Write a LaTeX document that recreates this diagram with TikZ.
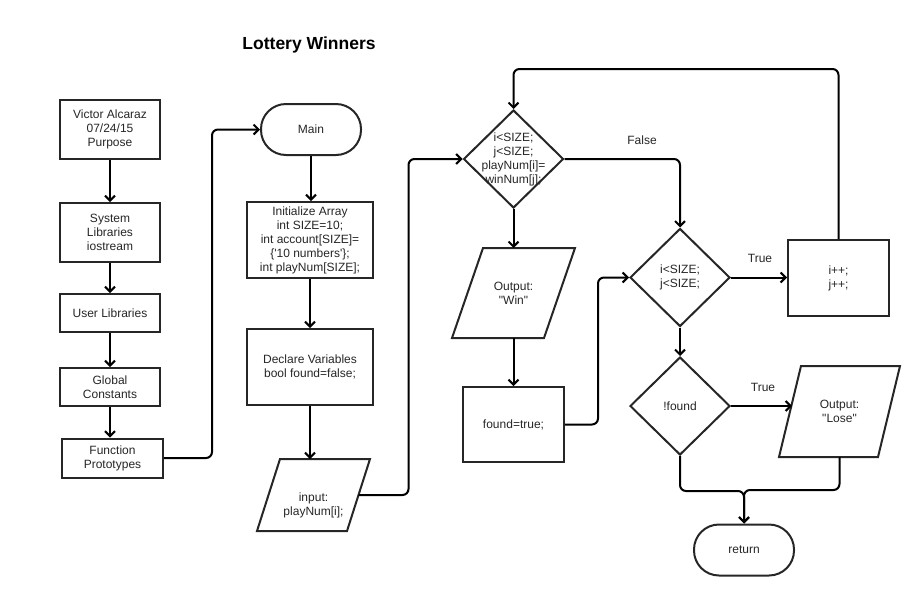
\documentclass[tikz,border=0pt]{standalone}
\usepackage{fontspec}
\setmainfont[Ligatures=TeXOff]{Liberation Sans}
\usetikzlibrary{arrows.meta,shapes.geometric}
\tikzset{
    box/.style={draw=black!85,line width=2pt,minimum width=100pt,align=center,inner sep=2pt},
    term/.style={box,rounded corners=25pt,minimum height=51pt},
    dec/.style={draw=black!85,line width=2pt,diamond,aspect=1,minimum width=100pt,minimum height=98pt,inner sep=0pt,align=center},
    io/.style={inner sep=0pt,outer sep=0pt,align=center},
    flow/.style={line width=2pt,rounded corners=6pt,-{Straight Barb[length=5pt,width=10pt]}}
}
% outline of an input/output node, #2 = half the slant
\newcommand{\ioshape}[2]{\draw[draw=black!85,line width=2pt] ([xshift=#2]#1.north west) -- ([xshift=#2]#1.north east) -- ([xshift=-#2]#1.south east) -- ([xshift=-#2]#1.south west) -- cycle;}
\begin{document}
\begin{tikzpicture}[x=1pt,y=-1pt,font=\fontsize{12}{14}\selectfont,text=black!85]
\useasboundingbox (0,0) rectangle (915,595);
\node[font=\fontsize{17.5}{20}\selectfont\bfseries,text=black] (title) at (309,45) {Lottery Winners};
% header column
\node[box,minimum height=59pt] (L1) at (110,129.5) {Victor Alcaraz\\07/24/15\\Purpose};
\node[box,minimum height=59pt] (L2) at (110,232.5) {System\\Libraries\\iostream};
\node[box,minimum height=38pt] (L3) at (110,313) {User Libraries};
\node[box,minimum height=38pt] (L4) at (110,387) {Global\\Constants};
\node[box,minimum width=101pt,minimum height=39pt] (L5) at (112.5,458) {Function\\Prototypes};
\foreach \x [count=\i] in {2,3,4,5}
    \draw[flow] (L\i.south) -- (L\i.south |- L\x.north);
% main
\node[term] (main) at (311,129.5) {Main};
\node[box,minimum width=126pt,minimum height=76pt] (init) at (310,240) {Initialize Array\\int SIZE=10;\\int account[SIZE]=\\\{'10 numbers'\};\\int playNum[SIZE];};
\node[box,minimum width=126pt,minimum height=76pt] (decl) at (310,367) {Declare Variables\\bool found=false;};
\node[io,minimum width=90pt,minimum height=72pt,label={[align=center,yshift=-10pt]center:input:\\playNum[i];}] (input) at (313.5,495) {};
\ioshape{input}{11.5pt}
\draw[flow] (L5.east) -- ++(48,0) |- (main.west);
\draw[flow] (main.south) -- (main.south |- init.north);
\draw[flow] (init.south) -- (decl.north);
\draw[flow] (decl.south) -- (decl.south |- input.north);
% search loop
\node[dec,label={[align=center]center:i<SIZE;\\j<SIZE;\\playNum[i]=\\winNum[j];}] (d1) at (513.5,159) {};
\node[io,minimum width=92pt,minimum height=90pt] (win) at (513.5,293) {Output:\\"Win"};
\ioshape{win}{15.5pt}
\node[box,minimum width=101pt,minimum height=75pt] (found) at (513.5,424.5) {found=true;};
\node[dec] (d2) at (680,277.5) {i<SIZE;\\j<SIZE;};
\node[box,minimum width=101pt,minimum height=76pt] (inc) at (838.5,278) {i++;\\j++;};
\node[dec] (nf) at (680,406) {!found};
\node[io,minimum width=99pt,minimum height=91pt] (lose) at (839.5,411.5) {Output:\\"Lose"};
\ioshape{lose}{11pt}
\node[term] (ret) at (744,550) {return};
\draw[flow] (input.east) -- ++(50,0) |- (d1.west);
\draw[flow] (d1.south) -- (win.north);
\draw[flow] (win.south) -- (found.north);
\draw[flow] (found.east) -- ++(33,0) |- (d2.west);
\draw[flow] (d1.east) -| (d2.north);
\draw[flow] (d2.east) -- (d2.east -| inc.west);
\draw[flow] (inc.north) -- ++(0,-170) -| (d1.north);
\draw[flow] (d2.south) -- (nf.north);
\draw[flow] (nf.east) -- ([xshift=2pt]nf.east -| lose.west);
\draw[flow] (nf.south) -- ++(0,35) -| (ret.north);
\draw[flow] (lose.south) -- ++(0,33) -| (ret.north);
\node (lblF) at (642,140) {False};
\node (lblT1) at (760,258) {True};
\node (lblT2) at (763,387) {True};
\end{tikzpicture}
\end{document}
